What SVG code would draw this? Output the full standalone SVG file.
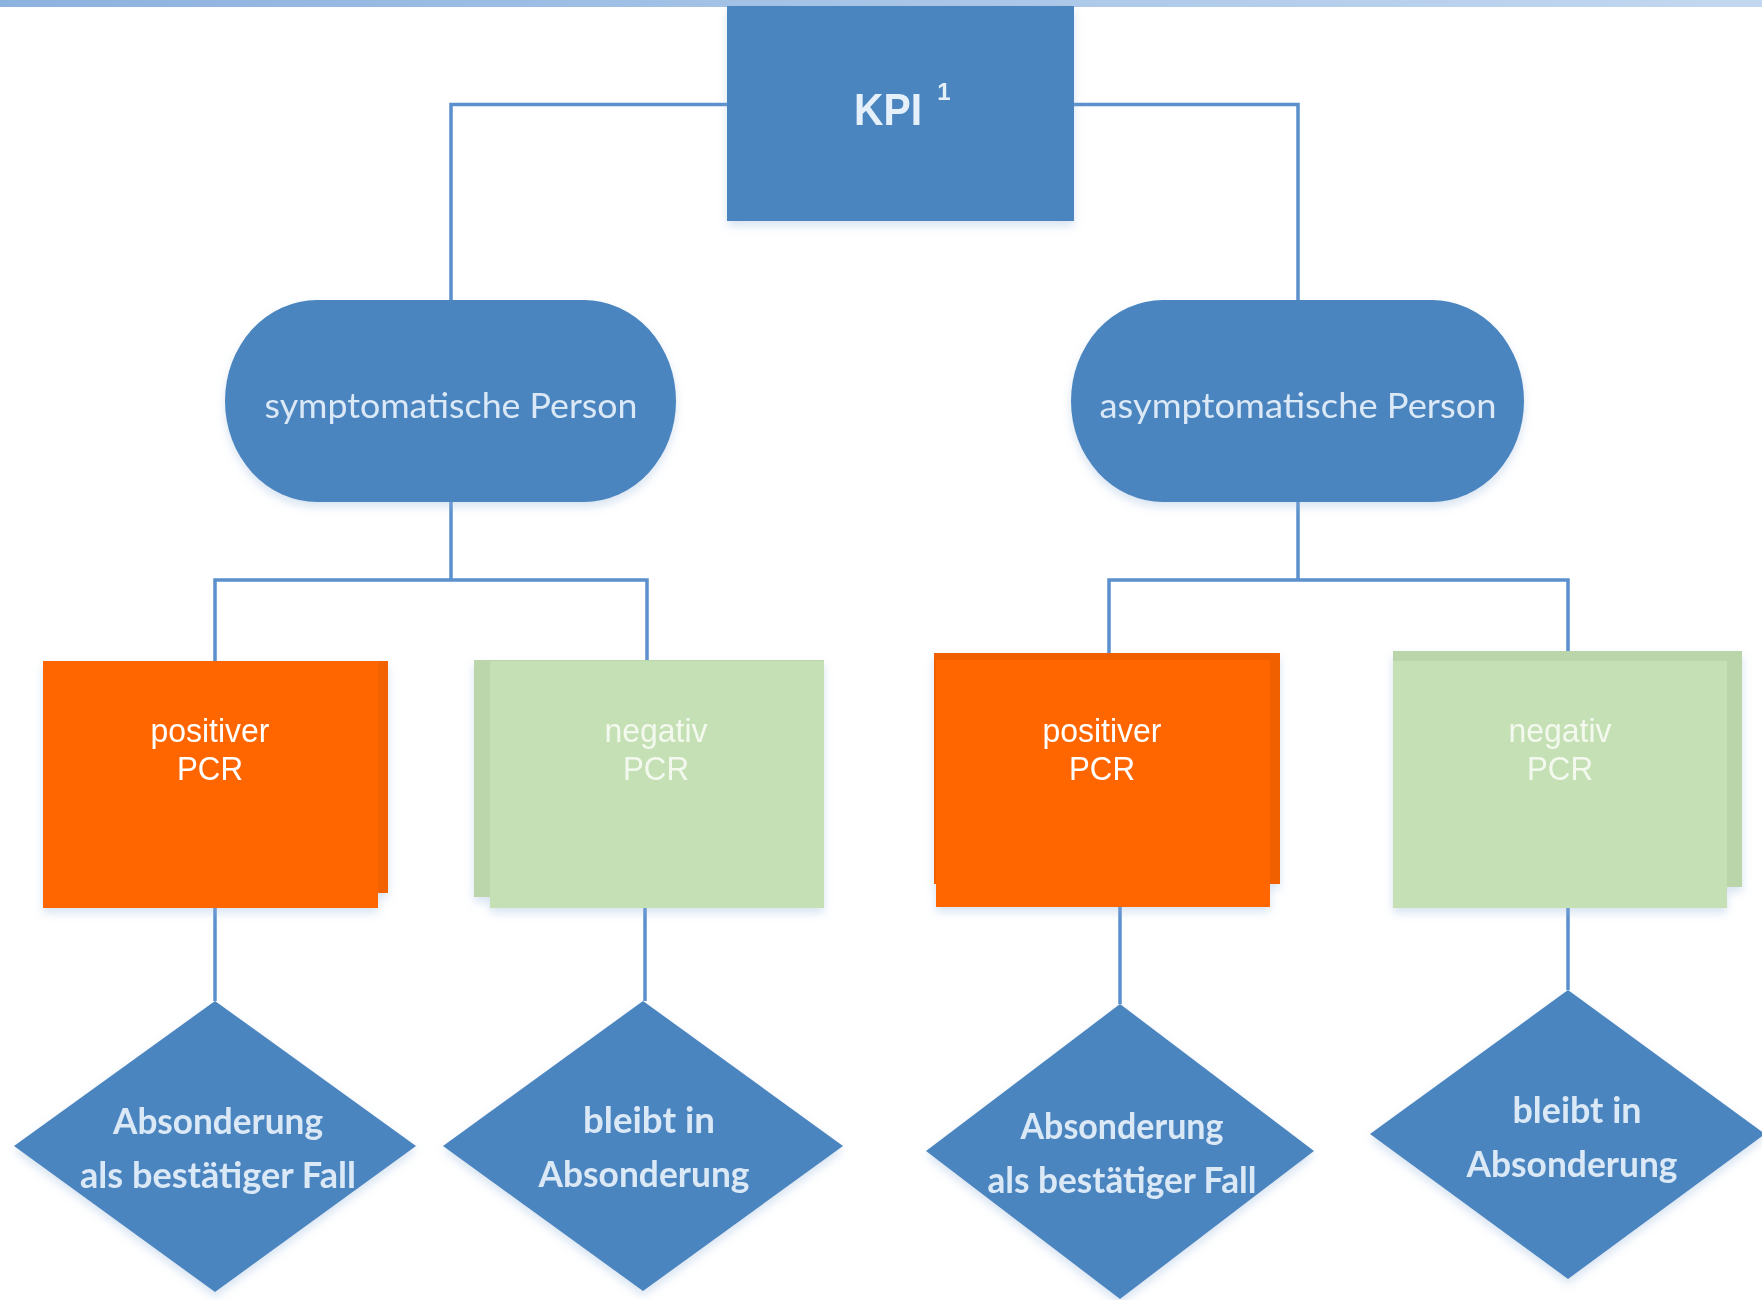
<svg xmlns="http://www.w3.org/2000/svg" width="1762" height="1300" viewBox="0 0 1762 1300">
  <defs>
    <linearGradient id="topbar" x1="0" y1="0" x2="1" y2="0">
      <stop offset="0" stop-color="#8cb2de"/>
      <stop offset="1" stop-color="#c3d8f0"/>
    </linearGradient>
    <filter id="shadow" x="-10%" y="-10%" width="120%" height="125%">
      <feDropShadow dx="0" dy="5" stdDeviation="5" flood-color="#8fb0d8" flood-opacity="0.35"/>
    </filter>
    <style>
      .blue { fill: #4b85c0; }
      .conn { fill: none; stroke: #5b90cd; stroke-width: 3.5; }
      .lbl { font-family: Lato, "Open Sans", "Liberation Sans", sans-serif; fill: #dbe8f6; text-anchor: middle; }
      .dl { font-weight: bold; }
      .pcr { font-family: "Liberation Sans", Arial, sans-serif; font-size: 33px; fill: #ffffff; text-anchor: middle; }
      .pcr-g { font-family: "Liberation Sans", Arial, sans-serif; font-size: 33px; fill: #f4f9ef; text-anchor: middle; }
    </style>
  </defs>

  <rect x="0" y="0" width="1762" height="1300" fill="#ffffff"/>
  <rect x="0" y="0" width="1762" height="7" fill="url(#topbar)"/>

  <g id="connectors">
    <path class="conn" d="M451,301 V104.5 H727"/>
    <path class="conn" d="M1074,104.5 H1298 V301"/>
    <path class="conn" d="M451,502 V580"/>
    <path class="conn" d="M215,661 V580 H647 V660"/>
    <path class="conn" d="M1298,502 V580"/>
    <path class="conn" d="M1109,653 V580 H1568 V651"/>
    <path class="conn" d="M215,908 V1001"/>
    <path class="conn" d="M645,908 V1001"/>
    <path class="conn" d="M1120,907 V1004"/>
    <path class="conn" d="M1568,908 V990"/>
  </g>

  <g id="kpi" filter="url(#shadow)">
    <rect class="blue" x="727" y="6" width="347" height="215"/>
    <text x="888" y="125" font-family="'Liberation Sans', Arial, sans-serif" font-weight="bold" font-size="44" fill="#e6f0fa" text-anchor="middle" textLength="68" lengthAdjust="spacingAndGlyphs">KPI</text>
    <text x="944" y="100" font-family="'Liberation Sans', Arial, sans-serif" font-weight="bold" font-size="24" fill="#e6f0fa" text-anchor="middle">1</text>
  </g>

  <g id="symptomatisch" filter="url(#shadow)">
    <rect class="blue" x="225" y="300" width="451" height="202" rx="92" ry="101"/>
    <text class="lbl" x="451" y="418" font-size="35" textLength="373" lengthAdjust="spacingAndGlyphs">symptomatische Person</text>
  </g>

  <g id="asymptomatisch" filter="url(#shadow)">
    <rect class="blue" x="1071" y="300" width="453" height="202" rx="92" ry="101"/>
    <text class="lbl" x="1298" y="418" font-size="35" textLength="397" lengthAdjust="spacingAndGlyphs">asymptomatische Person</text>
  </g>

  <g id="pos-left" filter="url(#shadow)">
    <rect x="43" y="661" width="345" height="232" fill="#f26200"/>
    <rect x="43" y="661" width="335" height="247" fill="#ff6600"/>
    <text class="pcr" x="210" y="742" textLength="119" lengthAdjust="spacingAndGlyphs">positiver</text>
    <text class="pcr" x="210" y="780" textLength="66" lengthAdjust="spacingAndGlyphs">PCR</text>
  </g>

  <g id="neg-left" filter="url(#shadow)">
    <rect x="474" y="660" width="350" height="237" fill="#bcd6ac"/>
    <rect x="490" y="661" width="334" height="247" fill="#c5e0b4"/>
    <text class="pcr-g" x="656" y="742" textLength="103" lengthAdjust="spacingAndGlyphs">negativ</text>
    <text class="pcr-g" x="656" y="780" textLength="66" lengthAdjust="spacingAndGlyphs">PCR</text>
  </g>

  <g id="pos-right" filter="url(#shadow)">
    <rect x="934" y="653" width="346" height="231" fill="#f06000"/>
    <rect x="936" y="660" width="334" height="247" fill="#ff6600"/>
    <text class="pcr" x="1102" y="742" textLength="119" lengthAdjust="spacingAndGlyphs">positiver</text>
    <text class="pcr" x="1102" y="780" textLength="66" lengthAdjust="spacingAndGlyphs">PCR</text>
  </g>

  <g id="neg-right" filter="url(#shadow)">
    <rect x="1393" y="651" width="349" height="236" fill="#bbd5aa"/>
    <rect x="1393" y="661" width="334" height="247" fill="#c5e0b4"/>
    <text class="pcr-g" x="1560" y="742" textLength="103" lengthAdjust="spacingAndGlyphs">negativ</text>
    <text class="pcr-g" x="1560" y="780" textLength="66" lengthAdjust="spacingAndGlyphs">PCR</text>
  </g>

  <g id="absonderung-left" filter="url(#shadow)">
    <polygon class="blue" points="215,1001 416,1146 215,1292 14,1146"/>
    <text class="lbl dl" x="218" y="1134" font-size="36" textLength="210" lengthAdjust="spacingAndGlyphs">Absonderung</text>
    <text class="lbl dl" x="218" y="1188" font-size="36" textLength="276" lengthAdjust="spacingAndGlyphs">als bestätiger Fall</text>
  </g>

  <g id="bleibt-left" filter="url(#shadow)">
    <polygon class="blue" points="643,1001 843,1146 643,1291 443,1146"/>
    <text class="lbl dl" x="649" y="1133" font-size="36" textLength="132" lengthAdjust="spacingAndGlyphs">bleibt in</text>
    <text class="lbl dl" x="644" y="1187" font-size="36" textLength="211" lengthAdjust="spacingAndGlyphs">Absonderung</text>
  </g>

  <g id="absonderung-right" filter="url(#shadow)">
    <polygon class="blue" points="1120,1004 1314,1151 1120,1299 926,1151"/>
    <text class="lbl dl" x="1122" y="1139" font-size="36" textLength="203" lengthAdjust="spacingAndGlyphs">Absonderung</text>
    <text class="lbl dl" x="1122" y="1193" font-size="36" textLength="269" lengthAdjust="spacingAndGlyphs">als bestätiger Fall</text>
  </g>

  <g id="bleibt-right" filter="url(#shadow)">
    <polygon class="blue" points="1568,990 1765,1134 1568,1279 1370,1134"/>
    <text class="lbl dl" x="1577" y="1123" font-size="36" textLength="129" lengthAdjust="spacingAndGlyphs">bleibt in</text>
    <text class="lbl dl" x="1572" y="1177" font-size="36" textLength="211" lengthAdjust="spacingAndGlyphs">Absonderung</text>
  </g>
</svg>
